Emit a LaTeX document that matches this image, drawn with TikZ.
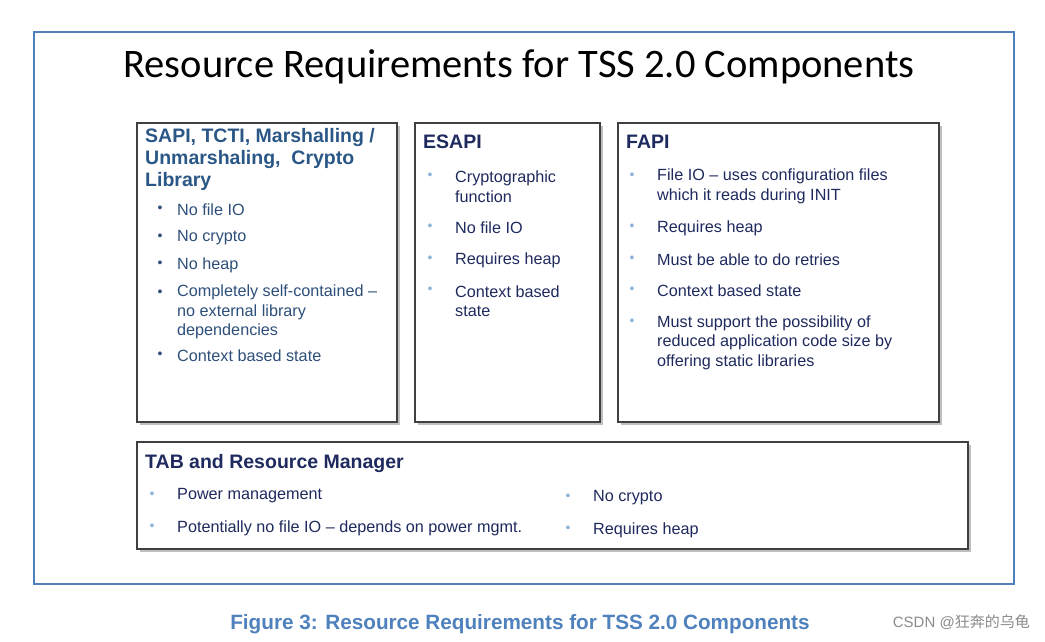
\documentclass[tikz,border=0pt]{standalone}
\usepackage{fontspec}
\setmainfont{Liberation Sans}
\newfontfamily\titlefont{Carlito}
\begin{document}
\begin{tikzpicture}[x=1pt,y=-1pt,
  box/.style={draw=black!75,line width=2.2pt},
  shade/.style={fill=black!25},
  ttl/.style={anchor=west,inner sep=0,font=\bfseries\fontsize{19.5}{22}\selectfont,align=left},
  itm/.style={anchor=west,inner sep=0,font=\fontsize{16.2}{19.5}\selectfont,align=left,text=navy},
  dot/.style={anchor=center,inner sep=0,text=bul,font=\fontsize{14}{14}\selectfont}]
\definecolor{navy}{HTML}{1F2A5E}
\definecolor{steel}{HTML}{2B5787}
\definecolor{slate}{HTML}{2D4F7A}
\definecolor{bul}{HTML}{8EB4DA}
\definecolor{frame}{HTML}{4F81BD}
\useasboundingbox (0,0) rectangle (1045,641);
\fill[white] (0,0) rectangle (1045,641);
\draw[frame,line width=2.5pt] (34,32) rectangle (1014,584);
\node[inner sep=0,font=\titlefont\fontsize{40.5}{45}\selectfont] (title) at (519,67) {Resource Requirements for TSS 2.0 Components};
% shadows
\fill[shade] (140,126) rectangle (400,425);
\fill[shade] (418,126) rectangle (603,425);
\fill[shade] (621,126) rectangle (942,425);
\fill[shade] (140,445) rectangle (971,552);
\draw[box,fill=white] (137,123) rectangle (397,422);
\draw[box,fill=white] (415,123) rectangle (600,422);
\draw[box,fill=white] (618,123) rectangle (939,422);
\draw[box,fill=white] (137,442) rectangle (968,549);
% box 1
\node[ttl,text=steel] (t1) at (145,159) {SAPI, TCTI, Marshalling /\\Unmarshaling,\ \ Crypto\\Library};
\foreach \y/\t/\d [count=\i] in {210/No file IO/210,238/No crypto/238,265/No heap/265,312/{Completely self-contained --\\no external library\\dependencies}/294,356/Context based state/356}{
  \node[dot,text=slate] (b1d\i) at (160,\d-1) {•};
  \node[itm,text=slate] (b1t\i) at (177,\y) {\t};}
% box 2
\node[ttl,text=navy] (t2) at (423,142) {ESAPI};
\foreach \y/\t/\d [count=\i] in {186.5/{Cryptographic\\function}/177,228/No file IO/228,260/Requires heap/260,301/{Context based\\state}/291}{
  \node[dot] (b2d\i) at (430,\d-1) {•};
  \node[itm] (b2t\i) at (455,\y) {\t};}
% box 3
\node[ttl,text=navy] (t3) at (626,142) {FAPI};
\foreach \y/\t/\d [count=\i] in {186.5/{File IO -- uses configuration files\\which it reads during INIT}/177,228/Requires heap/228,260/Must be able to do retries/260,291/Context based state/291,342.5/{Must support the possibility of\\reduced application code size by\\offering static libraries}/323}{
  \node[dot] (b3d\i) at (632,\d-1) {•};
  \node[itm] (b3t\i) at (657,\y) {\t};}
% box 4
\node[ttl,text=navy] (t4) at (145,463) {TAB and Resource Manager};
\foreach \x/\y/\t [count=\i] in {152/496/Power management,152/528/Potentially no file IO -- depends on power mgmt.,568/498/No crypto,568/530/Requires heap}{
  \node[dot] (b4d\i) at (\x,\y-1) {•};
  \node[itm] (b4t\i) at (\x+25,\y) {\t};}
% caption
\node[inner sep=0,text=frame,font=\bfseries\fontsize{20.7}{24}\selectfont] (cap) at (520,624) {Figure 3: Resource Requirements for TSS 2.0 Components};
\node[inner sep=0,anchor=east,text=black!45,font=\fontsize{15}{18}\selectfont] (wm) at (1030,622) {CSDN @{\fontspec{Noto Sans CJK SC}狂奔的乌龟}};
\end{tikzpicture}
\end{document}
